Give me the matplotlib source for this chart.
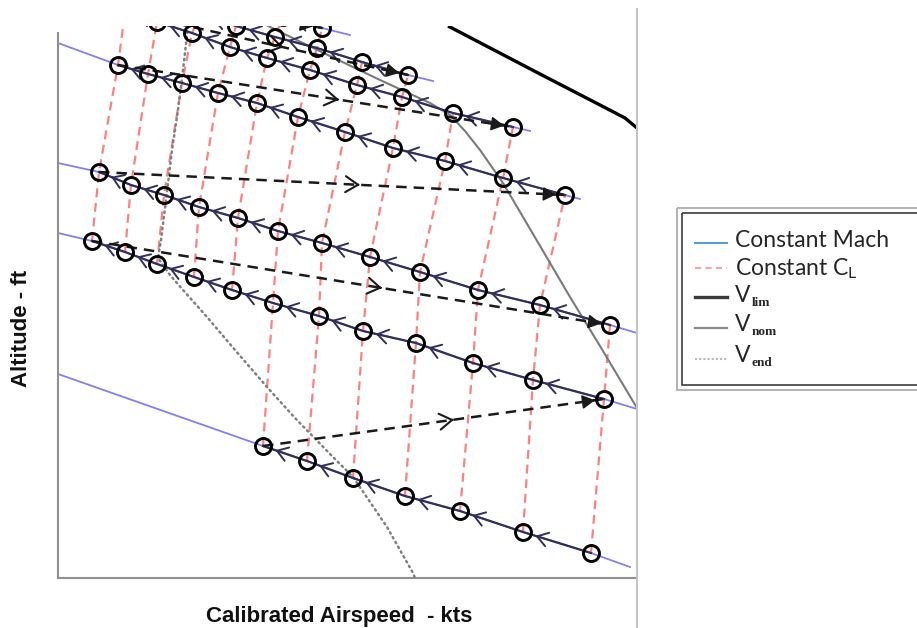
import numpy as np
import matplotlib
matplotlib.use("Agg")
import matplotlib.pyplot as plt
from matplotlib.patches import Rectangle

# ---------------- data (chart units: CAS, altitude; no tick values shown) ----------------
# Each constant-Mach row: circles indexed by constant-CL index starting at *_cl0
A_cl0 = 5
A_cas = [263, 307, 353, 405, 460, 523, 591]
A_alt = [182, 167, 150, 132, 117, 96, 75]
A_ext = [(58, 254), (630, 61)]

B_cl0 = 0
B_cas = [92, 125, 157, 194, 232, 273, 319, 363, 416, 473, 533, 604]
B_alt = [387, 376, 364, 351, 338, 325, 312, 297, 285, 265, 248, 229]
B_ext = [(58, 395), (637, 219)]

C_cl0 = 0
C_cas = [99, 131, 164, 199, 238, 278, 322, 370, 420, 478, 540, 610]
C_alt = [456, 443, 433, 421, 410, 397, 385, 371, 356, 338, 323, 303]
C_ext = [(58, 465), (637, 295)]

D_cl0 = 0
D_cas = [118, 148, 182, 218, 257, 298, 345, 393, 445, 503, 565]
D_alt = [563, 554, 545, 535, 525, 511, 496, 480, 467, 450, 433]
D_ext = [(58, 585), (580, 429)]

E_cl0 = 0
E_cas = [125, 157, 192, 230, 267, 310, 357, 402, 453, 513]
E_alt = [616, 606, 595, 581, 570, 558, 543, 531, 515, 501]
E_ext = [None, (530, 497)]

F_cl0 = 0
F_cas = [130, 166, 200, 236, 275, 317, 362, 408]
F_alt = [634, 624, 613, 602, 591, 580, 566, 553]
F_ext = [None, (433, 547)]

G_cl0 = 0
G_cas = [140, 175, 210, 246, 283, 322]
G_alt = [653, 643, 633, 622, 611, 600]
G_ext = [None, (350, 593)]

# boundary speeds
vlim_cas = [448, 540, 600, 625, 637]
vlim_alt = [602, 554, 523, 510, 500]
vnom_cas = [268, 307, 380, 430, 450, 465, 480, 503, 543, 570, 600, 637]
vnom_alt = [602, 583, 548, 525, 513, 497, 478, 445, 377, 331, 282, 220]
vend_cas = [188, 183, 178, 172, 166, 161, 158, 170, 183, 207, 235, 267, 295, 333, 353, 387, 413, 415]
vend_alt = [602, 558, 518, 478, 428, 388, 370, 353, 338, 311, 278, 241, 210, 171, 151, 101, 55, 50]

legend_labels = ["Constant Mach", "Constant C$_{\\mathregular{L}}$", "V", "V", "V"]
legend_subs = [None, None, "lim", "nom", "end"]

rows = [
    (A_cl0, A_cas, A_alt, A_ext),
    (B_cl0, B_cas, B_alt, B_ext),
    (C_cl0, C_cas, C_alt, C_ext),
    (D_cl0, D_cas, D_alt, D_ext),
    (E_cl0, E_cas, E_alt, E_ext),
    (F_cl0, F_cas, F_alt, F_ext),
    (G_cl0, G_cas, G_alt, G_ext),
]

# ---------------- style ----------------
MACH = "#8080f4"
TRAJ = "#30305a"
CLC = "#ff8080"
W, H = 917, 628

fig = plt.figure(figsize=(W / 100, H / 100), dpi=100)
fig.patch.set_facecolor("white")
ax = fig.add_axes([58 / W, (H - 578) / H, (636 - 58) / W, (578 - 26) / H])
ax.set_xlim(58, 636)
ax.set_ylim(50, 602)
ax.set_xticks([])
ax.set_yticks([])
for s in ["top", "right"]:
    ax.spines[s].set_visible(False)
for s in ["left", "bottom"]:
    ax.spines[s].set_color("#8f8f8f")
    ax.spines[s].set_linewidth(1.5)
ax.spines["left"].set_bounds(50, 595)


def head(p_from, p_to, back, length, style, color, ms, lw, z):
    p_from = np.asarray(p_from, float)
    p_to = np.asarray(p_to, float)
    d = p_to - p_from
    u = d / np.hypot(*d)
    tip = p_to - u * back
    tail = tip - u * length
    a = ax.annotate("", xy=tip, xytext=tail,
                    arrowprops=dict(arrowstyle=style, color=color, lw=lw,
                                    shrinkA=0, shrinkB=0, mutation_scale=ms),
                    zorder=z, annotation_clip=False)
    a.arrow_patch.set_clip_on(True)
    a.arrow_patch.set_clip_path(ax.patch)


# constant Mach lines
for cl0, cas, alt, ext in rows:
    xs, ys = list(cas), list(alt)
    if ext[0] is not None:
        xs = [ext[0][0]] + xs
        ys = [ext[0][1]] + ys
    if ext[1] is not None:
        xs = xs + [ext[1][0]]
        ys = ys + [ext[1][1]]
    ax.plot(xs, ys, color=MACH, lw=1.3, zorder=1)

# constant CL lines
ncl = 12
for i in range(ncl):
    xs, ys = [], []
    for cl0, cas, alt, ext in rows:
        j = i - cl0
        if 0 <= j < len(cas):
            xs.append(cas[j])
            ys.append(alt[j])
    if len(xs) > 1:
        ax.plot(xs, ys, color=CLC, lw=1.6, dashes=(4, 2.6), zorder=2)

# boundary lines
ax.plot(vlim_cas, vlim_alt, color="black", lw=2.4, zorder=3, solid_capstyle="butt")
ax.plot(vnom_cas, vnom_alt, color="#7a7a7a", lw=1.5, zorder=3)
ax.plot(vend_cas, vend_alt, color="#808080", lw=1.8, ls=(0, (0.6, 1.6)),
        dash_capstyle="round", zorder=3)

# trajectories along each Mach row (right to left)
for cl0, cas, alt, ext in rows:
    ax.plot(cas, alt, color=TRAJ, lw=1.6, zorder=4)
    for k in range(len(cas) - 1):
        head((cas[k + 1], alt[k + 1]), (cas[k], alt[k]), 13, 4, "->,head_length=0.42,head_width=0.28",
             TRAJ, 18, 1.4, 4)

# transfer arrows: left end of one row to right end of next row
for r in range(len(rows) - 1):
    _, c1, a1, _ = rows[r]
    _, c2, a2, _ = rows[r + 1]
    p0 = (c1[0], a1[0])
    p1 = (c2[-1], a2[-1])
    ax.plot([p0[0], p1[0]], [p0[1], p1[1]], color="#1a1a1a", lw=1.8,
            dashes=(4.2, 2.8), zorder=5)
    pm = (p0[0] + 0.56 * (p1[0] - p0[0]), p0[1] + 0.56 * (p1[1] - p0[1]))
    head(p0, pm, 0, 2, "->,head_length=0.5,head_width=0.32", "#1a1a1a", 18, 1.5, 5)
    head(p0, p1, 9, 2, "-|>,head_length=0.55,head_width=0.3", "#1a1a1a", 14, 1.2, 5)

# circles
for cl0, cas, alt, ext in rows:
    ax.plot(cas, alt, ls="none", marker="o", ms=11.5, mfc="none", mec="black",
            mew=2.1, zorder=6)

# axis labels
ax.set_xlabel("Calibrated Airspeed  - kts", fontsize=16, fontweight="bold",
              family="Liberation Sans", color="#111111")
ax.xaxis.set_label_coords((339 - 58) / 578, (578 - 606) / 552)
ax.set_ylabel("Altitude - ft", fontsize=16, fontweight="bold",
              family="Liberation Sans", color="#111111")
ax.yaxis.set_label_coords((32 - 58) / 578, (578 - 328) / 552)

# overlay for separator and legend
lax = fig.add_axes([0, 0, 1, 1], zorder=10)
lax.set_xlim(0, W)
lax.set_ylim(H, 0)
lax.axis("off")
lax.patch.set_alpha(0)
lax.plot([637, 637], [9, 628], color="#c4c4c4", lw=1.5)

lax.add_patch(Rectangle((677, 208), 270, 182, fill=False, ec="#b4b4b4", lw=1.5))
lax.add_patch(Rectangle((682, 213), 260, 172, fill=False, ec="#3c3c3c", lw=1.2))

hy = [243, 268, 297, 328, 359]
by = [247, 275, 302, 331, 362]
styles = [
    dict(color="#5b9bd5", lw=1.5),
    dict(color="#f4a2ac", lw=1.5, dashes=(3, 2)),
    dict(color="#3a3a3a", lw=2.4),
    dict(color="#8c8c8c", lw=1.6),
    dict(color="#b8b8b8", lw=1.5, ls=(0, (1, 1))),
]
for k in range(5):
    lax.plot([695, 727], [hy[k], hy[k]], **styles[k])
    lax.text(735, by[k], legend_labels[k], fontsize=16.5, family="Lato",
             color="#262626", va="baseline", ha="left")
    if legend_subs[k]:
        lax.text(752, by[k] + 4, legend_subs[k], fontsize=9.5, family="Liberation Serif",
                 fontweight="bold", color="#262626", va="baseline", ha="left")

fig.savefig("out.png", dpi=100)
